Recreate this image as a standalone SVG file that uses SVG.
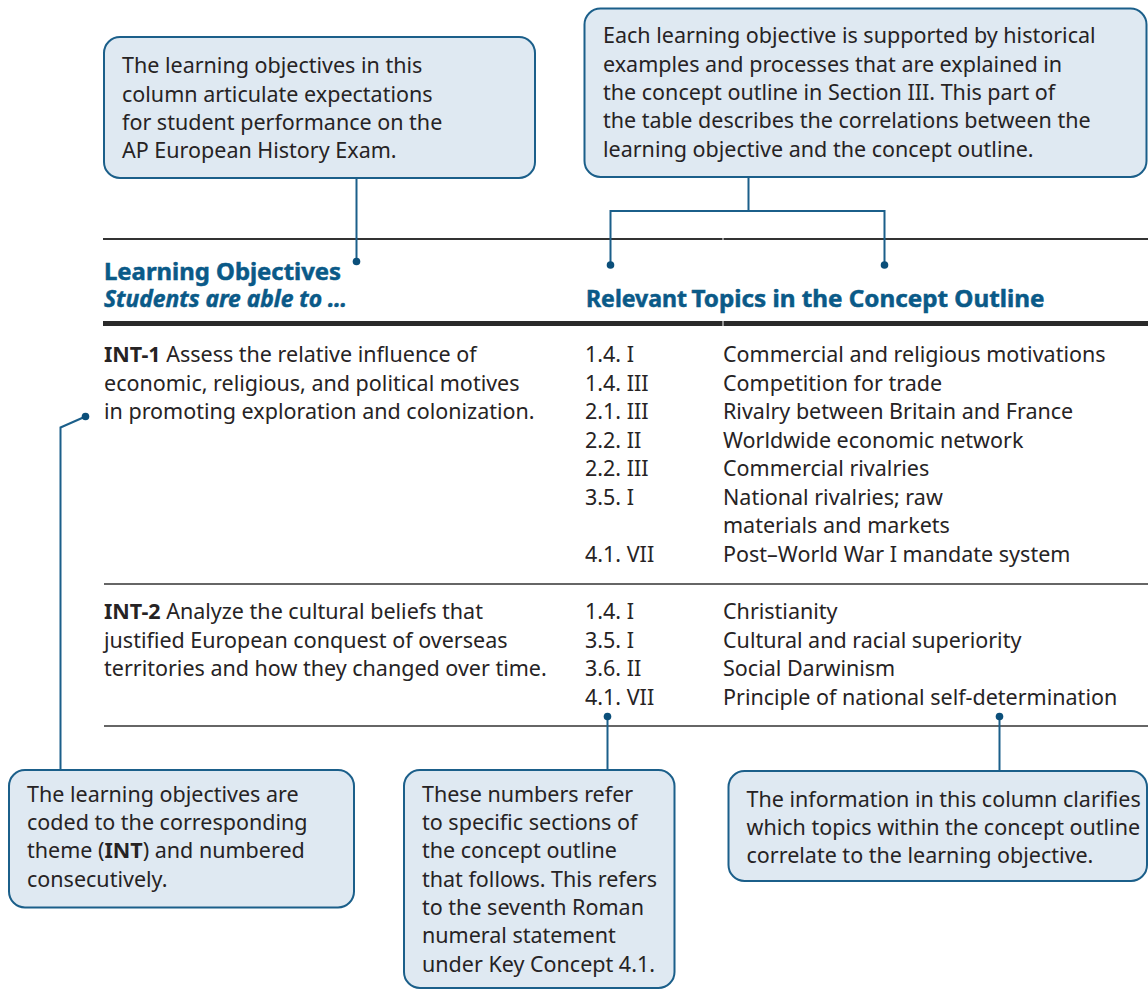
<svg xmlns="http://www.w3.org/2000/svg" width="1148" height="990" viewBox="0 0 1148 990">
<defs>
<style>
text{font-family:"Noto Sans","Liberation Sans",Arial,sans-serif;font-size:21.5px;fill:#262324}
.b{font-weight:bold}
.hd{font-weight:bold;fill:#0a5a88;font-size:22.5px;stroke:#0a5a88;stroke-width:0.5}
.it{font-style:italic}
.box{fill:#dfe9f2;stroke:#1b5f8a;stroke-width:2}
.cn{fill:none;stroke:#1b5f8a;stroke-width:2}
.dot{fill:#0b4f7a}
.rule{stroke:#333;stroke-width:2}
.thick{stroke:#2a2a2a;stroke-width:5}
</style>
</defs>
<rect width="1148" height="990" fill="#fff"/>

<g id="table-rules">
<line class="rule" x1="103" y1="239" x2="722.5" y2="239"/>
<line class="rule" x1="723.5" y1="239" x2="1148" y2="239"/>
<line class="thick" x1="103" y1="323.5" x2="722.5" y2="323.5"/>
<line class="thick" x1="723.5" y1="323.5" x2="1148" y2="323.5"/>
<line class="rule" x1="104" y1="584" x2="1148" y2="584" style="stroke-width:1.6"/>
<line class="rule" x1="104" y1="726" x2="1148" y2="726" style="stroke-width:1.6"/>
</g>

<g id="header-objectives">
<text class="hd" x="104" y="279.5" textLength="237" lengthAdjust="spacingAndGlyphs">Learning Objectives</text>
<text class="hd it" x="104" y="306.5" textLength="243" lengthAdjust="spacingAndGlyphs">Students are able to …</text>
</g>
<g id="header-topics">
<text class="hd" x="586" y="306.5" textLength="101" lengthAdjust="spacingAndGlyphs">Relevant</text>
<text class="hd" x="691.5" y="306.5" textLength="353" lengthAdjust="spacingAndGlyphs">Topics in the Concept Outline</text>
</g>

<g id="row-int1">
<text x="104" y="362"><tspan class="b">INT-1</tspan> Assess the relative influence of</text>
<text x="104" y="390.5">economic, religious, and political motives</text>
<text x="104" y="419">in promoting exploration and colonization.</text>
<text x="585" y="362">1.4. I</text><text x="723" y="362">Commercial and religious motivations</text>
<text x="585" y="390.5">1.4. III</text><text x="723" y="390.5">Competition for trade</text>
<text x="585" y="419">2.1. III</text><text x="723" y="419">Rivalry between Britain and France</text>
<text x="585" y="447.5">2.2. II</text><text x="723" y="447.5">Worldwide economic network</text>
<text x="585" y="476">2.2. III</text><text x="723" y="476">Commercial rivalries</text>
<text x="585" y="504.5">3.5. I</text><text x="723" y="504.5">National rivalries; raw</text>
<text x="723" y="533">materials and markets</text>
<text x="585" y="561.5">4.1. VII</text><text x="723" y="561.5">Post–World War I mandate system</text>
</g>

<g id="row-int2">
<text x="104" y="619"><tspan class="b">INT-2</tspan> Analyze the cultural beliefs that</text>
<text x="104" y="647.5">justified European conquest of overseas</text>
<text x="104" y="676">territories and how they changed over time.</text>
<text x="585" y="619">1.4. I</text><text x="723" y="619">Christianity</text>
<text x="585" y="647.5">3.5. I</text><text x="723" y="647.5">Cultural and racial superiority</text>
<text x="585" y="676">3.6. II</text><text x="723" y="676">Social Darwinism</text>
<text x="585" y="704.5">4.1. VII</text><text x="723" y="704.5">Principle of national self-determination</text>
</g>

<g id="connectors">
<path class="cn" d="M356.5 178 V261.5"/>
<circle class="dot" cx="356.5" cy="261.5" r="3.8"/>
<path class="cn" d="M748.5 177 V211 M610.5 265 V211 H884.5 V265"/>
<circle class="dot" cx="610.5" cy="265" r="3.8"/>
<circle class="dot" cx="884.5" cy="265" r="3.8"/>
<path class="cn" d="M85.5 416.5 L60.5 427.5 V770"/>
<circle class="dot" cx="85.5" cy="416.5" r="3.8"/>
<path class="cn" d="M607.5 716.5 V770"/>
<circle class="dot" cx="607.5" cy="716.5" r="3.8"/>
<path class="cn" d="M999.5 716.5 V771"/>
<circle class="dot" cx="999.5" cy="716.5" r="3.8"/>
</g>

<g id="callout-objectives">
<rect class="box" x="104" y="37" width="431" height="141" rx="16"/>
<text x="122" y="73.3">The learning objectives in this</text>
<text x="122" y="101.7">column articulate expectations</text>
<text x="122" y="130">for student performance on the</text>
<text x="122" y="158.3">AP European History Exam.</text>
</g>

<g id="callout-topics">
<rect class="box" x="584.5" y="8.5" width="562" height="168.5" rx="16"/>
<text x="603" y="43.3">Each learning objective is supported by historical</text>
<text x="603" y="71.7">examples and processes that are explained in</text>
<text x="603" y="100">the concept outline in Section III. This part of</text>
<text x="603" y="128.3">the table describes the correlations between the</text>
<text x="603" y="156.7">learning objective and the concept outline.</text>
</g>

<g id="callout-codes">
<rect class="box" x="9" y="770" width="345" height="137.5" rx="16"/>
<text x="27" y="801.7">The learning objectives are</text>
<text x="27" y="830">coded to the corresponding</text>
<text x="27" y="858.3">theme (<tspan class="b">INT</tspan>) and numbered</text>
<text x="27" y="886.7">consecutively.</text>
</g>

<g id="callout-numbers">
<rect class="box" x="404" y="770" width="270.5" height="218" rx="16"/>
<text x="422" y="801.7">These numbers refer</text>
<text x="422" y="830">to specific sections of</text>
<text x="422" y="858.3">the concept outline</text>
<text x="422" y="886.7">that follows. This refers</text>
<text x="422" y="915">to the seventh Roman</text>
<text x="422" y="943.3">numeral statement</text>
<text x="422" y="971.7">under Key Concept 4.1.</text>
</g>

<g id="callout-column">
<rect class="box" x="728.5" y="771" width="418.5" height="110" rx="16"/>
<text x="746.5" y="806.7">The information in this column clarifies</text>
<text x="746.5" y="835">which topics within the concept outline</text>
<text x="746.5" y="863.3">correlate to the learning objective.</text>
</g>
</svg>
